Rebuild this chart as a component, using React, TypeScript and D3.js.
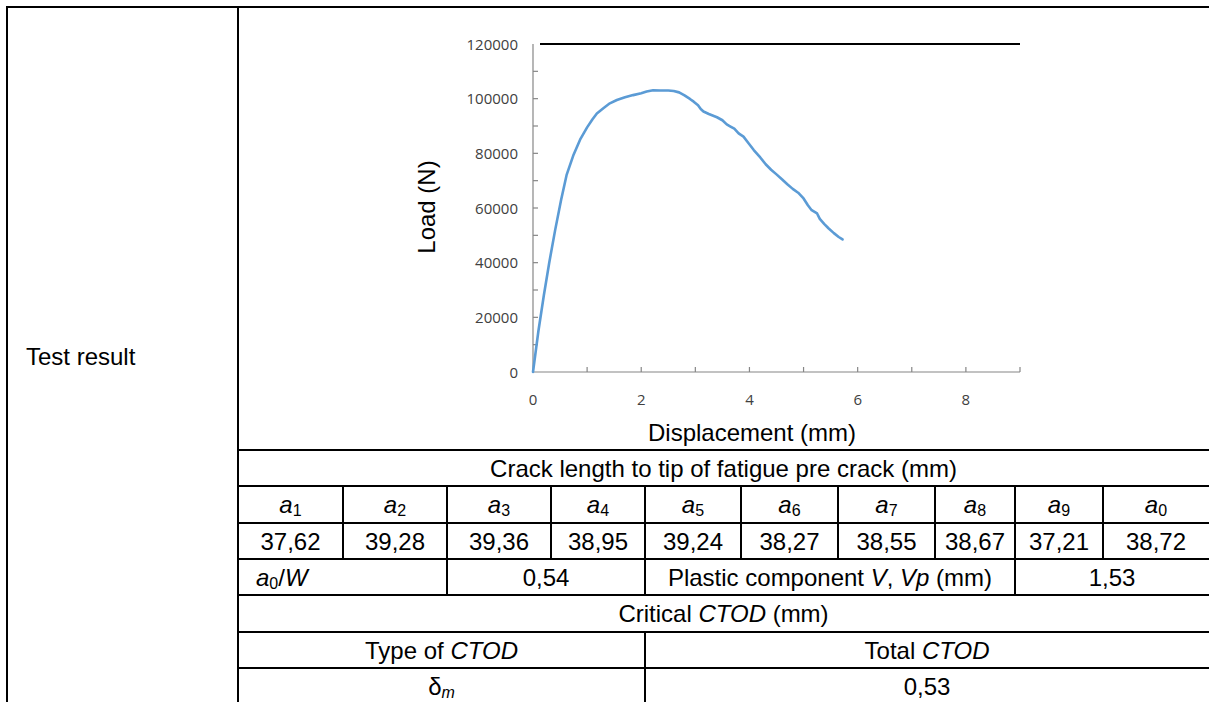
import React from 'react';
import * as d3 from 'd3';

// Load–displacement curve
const displacement = [0, 0.1, 0.2, 0.3, 0.41, 0.52, 0.62, 0.75, 0.87, 1.0, 1.1, 1.18, 1.3, 1.42, 1.55, 1.7, 1.85, 2.0, 2.1, 2.22, 2.35, 2.5, 2.6, 2.7, 2.8, 2.9, 2.97, 3.05, 3.1, 3.15, 3.25, 3.4, 3.5, 3.58, 3.65, 3.72, 3.8, 3.89, 3.98, 4.08, 4.2, 4.3, 4.4, 4.5, 4.6, 4.7, 4.8, 4.9, 5.0, 5.08, 5.15, 5.25, 5.3, 5.38, 5.46, 5.56, 5.65, 5.72];
const load = [0, 15000, 28000, 40000, 52000, 63000, 72000, 79500, 85000, 89500, 92500, 94600, 96500, 98300, 99500, 100500, 101300, 102000, 102600, 103100, 103000, 103000, 102800, 102300, 101200, 99900, 98900, 97600, 96200, 95300, 94400, 93200, 92100, 90600, 89800, 89000, 87300, 86100, 83800, 81200, 78500, 76000, 74000, 72300, 70500, 68700, 67000, 65600, 63500, 61000, 59200, 58000, 56000, 54200, 52600, 50800, 49400, 48500];

const xTickLabels = [0, 2, 4, 6, 8];
const xMinorTicks = [1, 2, 3, 4, 5, 6, 7, 8, 9];
const yTickLabels = [0, 20000, 40000, 60000, 80000, 100000, 120000];
const yMinorTicks = [10000, 20000, 30000, 40000, 50000, 60000, 70000, 80000, 90000, 100000, 110000];

// Table contents
const crackIndex = ['1', '2', '3', '4', '5', '6', '7', '8', '9', '0'];
const crackValues = ['37,62', '39,28', '39,36', '38,95', '39,24', '38,27', '38,55', '38,67', '37,21', '38,72'];
const a0OverW = '0,54';
const plasticVp = '1,53';
const totalCtod = '0,53';

const TF = '"Liberation Sans", Arial, sans-serif';
const FS = 24;
const SUB = 16;

export default function App() {
  const x = d3.scaleLinear().domain([0, 9]).range([533, 1020]);
  const y = d3.scaleLinear().domain([0, 120000]).range([372, 44]);
  const pts: [number, number][] = displacement.map((d, i) => [d, load[i]]);
  const linePath = d3.line<[number, number]>().x(d => x(d[0])).y(d => y(d[1]))(pts) || '';

  // table geometry
  const colX = [238, 343, 447, 551, 645, 741, 838, 935, 1015, 1103, 1209];
  const rowY = [450, 486, 523, 559, 595, 632, 668, 705];
  const sw = 2;
  const mid = (a: number, b: number) => (a + b) / 2;
  const ty = (r: number) => mid(rowY[r], rowY[r + 1]) + 8.5;

  const lines: JSX.Element[] = [];
  const L = (x1: number, y1: number, x2: number, y2: number, k: string) =>
    lines.push(<line key={k} x1={x1} y1={y1} x2={x2} y2={y2} stroke="#000" strokeWidth={sw} />);
  L(6, 7, 1209, 7, 'top');
  L(7, 6, 7, 702, 'left');
  L(238, 6, 238, 702, 'sep');
  rowY.slice(0, 7).forEach((ry, i) => L(238, ry, 1209, ry, 'h' + i));
  colX.slice(1, 10).forEach((cx, i) => L(cx, rowY[1], cx, rowY[3], 'v' + i));
  [447, 645, 1015].forEach((cx, i) => L(cx, rowY[3], cx, rowY[4], 'w' + i));
  L(645, rowY[5], 645, 702, 'tt');

  return (
    <svg width={1209} height={702} style={{ position: 'absolute', left: 0, top: 0, background: '#fff' }}>
      <rect x={0} y={0} width={1209} height={702} fill="#fff" />
      {/* chart */}
      <g>
        <line x1={540} x2={1020} y1={44} y2={44} stroke="#000" strokeWidth={2} />
        <line x1={x(0)} x2={x(9)} y1={y(0)} y2={y(0)} stroke="#868686" strokeWidth={1.2} />
        <line x1={x(0)} x2={x(0)} y1={y(0)} y2={y(120000)} stroke="#868686" strokeWidth={1.2} />
        {xMinorTicks.map(t => (
          <line key={'xt' + t} x1={x(t)} x2={x(t)} y1={y(0)} y2={y(0) - 5} stroke="#868686" strokeWidth={1.2} />
        ))}
        {yMinorTicks.map(t => (
          <line key={'yt' + t} x1={x(0)} x2={x(0) + 5} y1={y(t)} y2={y(t)} stroke="#868686" strokeWidth={1.2} />
        ))}
        {xTickLabels.map(t => (
          <text key={'xl' + t} x={x(t)} y={405} textAnchor="middle" fontFamily='"Open Sans", sans-serif' fontSize={15} fill="#404040">{t}</text>
        ))}
        {yTickLabels.map(t => (
          <text key={'yl' + t} x={518} y={y(t) + 5.5} textAnchor="end" fontFamily='"Open Sans", sans-serif' fontSize={15} fill="#404040">{t}</text>
        ))}
        <path d={linePath} fill="none" stroke="#5B9BD5" strokeWidth={2.6} strokeLinejoin="round" strokeLinecap="round" />
        <text x={752} y={441} textAnchor="middle" fontFamily={TF} fontSize={FS} fill="#000">Displacement (mm)</text>
        <text transform="translate(435,207) rotate(-90)" textAnchor="middle" fontFamily={TF} fontSize={FS} fill="#000">Load (N)</text>
      </g>

      {/* table */}
      {lines}
      <text x={26} y={365} fontFamily={TF} fontSize={FS}>Test result</text>
      <text x={mid(238, 1209)} y={ty(0)} textAnchor="middle" fontFamily={TF} fontSize={FS}>Crack length to tip of fatigue pre crack (mm)</text>
      {crackIndex.map((c, i) => (
        <text key={'a' + i} x={mid(colX[i], colX[i + 1])} y={ty(1)} textAnchor="middle" fontFamily={TF} fontSize={FS}>
          <tspan fontStyle="italic">a</tspan>
          <tspan fontSize={SUB} dy={3}>{c}</tspan>
        </text>
      ))}
      {crackValues.map((v, i) => (
        <text key={'v' + i} x={mid(colX[i], colX[i + 1])} y={ty(2)} textAnchor="middle" fontFamily={TF} fontSize={FS}>{v}</text>
      ))}
      <text x={256} y={ty(3)} fontFamily={TF} fontSize={FS}>
        <tspan fontStyle="italic">a</tspan>
        <tspan fontSize={SUB} dy={3}>0</tspan>
        <tspan dy={-3}>/</tspan>
        <tspan fontStyle="italic">W</tspan>
      </text>
      <text x={mid(447, 645)} y={ty(3)} textAnchor="middle" fontFamily={TF} fontSize={FS}>{a0OverW}</text>
      <text x={mid(645, 1015)} y={ty(3)} textAnchor="middle" fontFamily={TF} fontSize={FS}>
        Plastic component <tspan fontStyle="italic">V</tspan>, <tspan fontStyle="italic">Vp</tspan> (mm)
      </text>
      <text x={mid(1015, 1209)} y={ty(3)} textAnchor="middle" fontFamily={TF} fontSize={FS}>{plasticVp}</text>
      <text x={mid(238, 1209)} y={ty(4)} textAnchor="middle" fontFamily={TF} fontSize={FS}>
        Critical <tspan fontStyle="italic">CTOD</tspan> (mm)
      </text>
      <text x={mid(238, 645)} y={ty(5)} textAnchor="middle" fontFamily={TF} fontSize={FS}>
        Type of <tspan fontStyle="italic">CTOD</tspan>
      </text>
      <text x={mid(645, 1209)} y={ty(5)} textAnchor="middle" fontFamily={TF} fontSize={FS}>
        Total <tspan fontStyle="italic">CTOD</tspan>
      </text>
      <text x={mid(238, 645)} y={ty(6)} textAnchor="middle" fontFamily={TF} fontSize={FS}>
        δ<tspan fontStyle="italic" fontSize={SUB} dy={3}>m</tspan>
      </text>
      <text x={mid(645, 1209)} y={ty(6)} textAnchor="middle" fontFamily={TF} fontSize={FS}>{totalCtod}</text>
    </svg>
  );
}
